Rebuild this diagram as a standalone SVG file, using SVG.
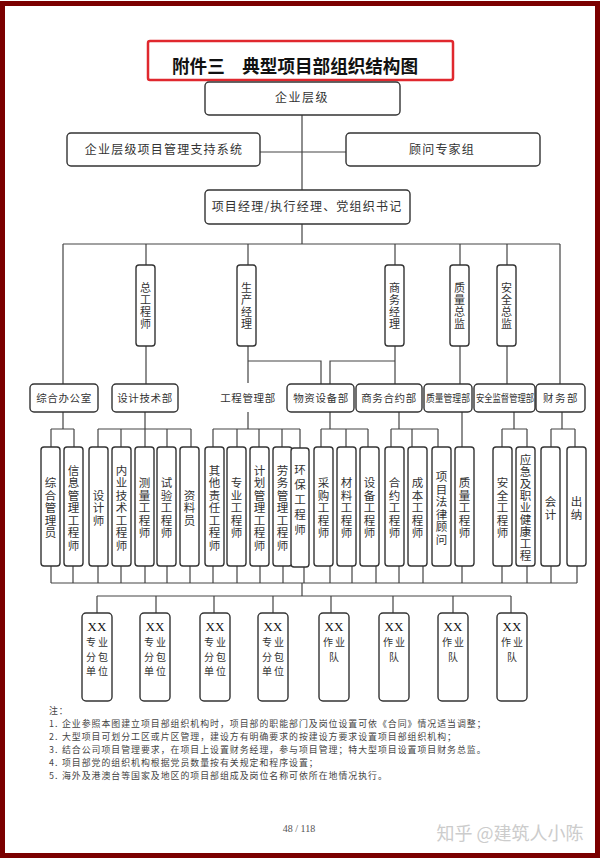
<svg xmlns="http://www.w3.org/2000/svg" width="600" height="860" viewBox="0 0 600 860">
<style>
.bx{fill:#fff;stroke:#333;stroke-width:1.4}
.ln{fill:none;stroke:#444;stroke-width:1.2}
.t{font-family:'Noto Sans CJK SC','Noto Sans CJK JP',sans-serif;fill:#333}
.h{font-size:12px;letter-spacing:1.2px;text-anchor:middle}
.d{font-size:10.5px;letter-spacing:0.6px;text-anchor:middle}
.v{font-size:11.5px;letter-spacing:1px;text-anchor:middle;writing-mode:vertical-rl}
.m{font-size:11px;letter-spacing:1px;text-anchor:middle;writing-mode:vertical-rl}
.xx{font-family:'Liberation Serif',serif;font-size:13px;fill:#111;text-anchor:middle}
.s{font-size:10px;letter-spacing:2px;text-anchor:middle}
.n{font-size:8.9px;letter-spacing:1px;fill:#444}
</style>
<rect x="0" y="0" width="600" height="860" fill="#fff"/>
<rect x="2.5" y="3.5" width="595" height="852" fill="none" stroke="#7b0000" stroke-width="5"/>

<g id="title">
<rect x="148" y="41" width="305" height="39" rx="2" fill="none" stroke="#e0282e" stroke-width="2.5"/>
<text x="295" y="73" class="t" style="font-size:18px;font-weight:bold;fill:#111" text-anchor="middle" textLength="246" lengthAdjust="spacingAndGlyphs">附件三　典型项目部组织结构图</text>
</g>

<g id="connectors">
<path class="ln" d="M302 115V190M260 152H346M302 224V244M63 244H560M63 244V384M146 244V265M146 346V384M248 244V265M248 346V383M248 361H321V384M395 244V265M395 346V384M395 361H330V384M460 244V265M460 346V384M507 244V265M507 346V384M560 244V384"/>
<path class="ln" d="M63 412V429M51 429H74M51 429V447M74 429V447M145 412V429M98 429H191M98 429V447M121 429V447M145 429V447M167 429V447M191 429V447M248 412V429M213 429H300M213 429V447M237 429V447M259 429V447M282 429V447M300 429V448M330 412V429M321 429H368M321 429V447M346 429V447M368 429V447M399 412V429M391 429H438M391 429V447M412 429V447M438 429V447M462 412V447M514 412V429M502 429H527M502 429V447M527 429V447M562 412V429M551 429H575M551 429V447M575 429V447"/>
<path class="ln" d="M51 566V583M73 566V583M98 566V583M121 566V583M145 566V583M167 566V583M190 566V583M213 566V583M237 566V583M260 566V583M283 566V583M304 567V583M330 566V583M352 566V583M376 566V583M399 566V583M423 566V583M462 566V583M502 566V583M527 566V583M551 566V583M577 566V583M51 583H577M302 583V596M97 596H511M97 596V613M156 596V613M214 596V613M273 596V613M331 596V613M393 596V613M453 596V613M511 596V613"/>
</g>

<g id="enterprise"><rect class="bx" x="205" y="82" width="195" height="33" rx="4"/><text class="t h" x="302" y="102" style="letter-spacing:1.5px">企业层级</text></g>
<g id="support"><rect class="bx" x="67" y="133" width="193" height="33" rx="4"/><text class="t h" x="164" y="154">企业层级项目管理支持系统</text></g>
<g id="experts"><rect class="bx" x="346" y="133" width="194" height="33" rx="4"/><text class="t h" x="442" y="154">顾问专家组</text></g>
<g id="pm"><rect class="bx" x="205" y="190" width="205" height="34" rx="4"/><text class="t h" x="307" y="211">项目经理/执行经理、党组织书记</text></g>

<g id="chief-engineer"><rect class="bx" x="136" y="265" width="19" height="81" rx="3"/><text class="t m" x="145.5" y="306">总工程师</text></g>
<g id="production-manager"><rect class="bx" x="237" y="265" width="19" height="81" rx="3"/><text class="t m" x="246.5" y="306">生产经理</text></g>
<g id="business-manager"><rect class="bx" x="385" y="265" width="19" height="81" rx="3"/><text class="t m" x="394.5" y="306">商务经理</text></g>
<g id="quality-director"><rect class="bx" x="450" y="265" width="19" height="81" rx="3"/><text class="t m" x="459.5" y="306">质量总监</text></g>
<g id="safety-director"><rect class="bx" x="497" y="265" width="19" height="81" rx="3"/><text class="t m" x="506.5" y="306">安全总监</text></g>

<g id="office"><rect class="bx" x="30" y="384" width="68" height="28" rx="4"/><text class="t d" x="64" y="402">综合办公室</text></g>
<g id="design"><rect class="bx" x="112" y="384" width="66" height="28" rx="4"/><text class="t d" x="145" y="402">设计技术部</text></g>
<g id="engineering"><text class="t d" x="248" y="402">工程管理部</text></g>
<g id="materials"><rect class="bx" x="287" y="384" width="67" height="28" rx="4"/><text class="t d" x="321" y="402">物资设备部</text></g>
<g id="contracts"><rect class="bx" x="356" y="384" width="66" height="28" rx="4"/><text class="t d" x="389" y="402">商务合约部</text></g>
<g id="quality"><rect class="bx" x="424" y="384" width="48" height="28" rx="4"/><text class="t" transform="translate(426 402) scale(0.838 1)" x="0" y="0" style="font-size:10.5px">质量管理部</text></g>
<g id="safety"><rect class="bx" x="474" y="384" width="61" height="28" rx="4"/><text class="t" transform="translate(476 402) scale(0.79 1)" x="0" y="0" style="font-size:10.5px">安全监督管理部</text></g>
<g id="finance"><rect class="bx" x="536" y="384" width="49" height="28" rx="4"/><text class="t d" x="561" y="402" style="letter-spacing:1.5px">财务部</text></g>

<g id="p1"><rect class="bx" x="41" y="447" width="19" height="119" rx="3"/><text class="t v" x="50.5" y="508.5">综合管理员</text></g>
<g id="p2"><rect class="bx" x="64" y="447" width="19" height="119" rx="3"/><text class="t v" x="73.5" y="508.5">信息管理工程师</text></g>
<g id="p3"><rect class="bx" x="89" y="447" width="19" height="119" rx="3"/><text class="t v" x="98.5" y="508.5">设计师</text></g>
<g id="p4"><rect class="bx" x="112" y="447" width="19" height="119" rx="3"/><text class="t v" x="121.5" y="508.5">内业技术工程师</text></g>
<g id="p5"><rect class="bx" x="135" y="447" width="19" height="119" rx="3"/><text class="t v" x="144.5" y="508.5">测量工程师</text></g>
<g id="p6"><rect class="bx" x="157" y="447" width="19" height="119" rx="3"/><text class="t v" x="166.5" y="508.5">试验工程师</text></g>
<g id="p7"><rect class="bx" x="180" y="447" width="19" height="119" rx="3"/><text class="t v" x="189.5" y="508.5">资料员</text></g>
<g id="p8"><rect class="bx" x="205" y="447" width="19" height="119" rx="3"/><text class="t v" x="214.5" y="508.5">其他责任工程师</text></g>
<g id="p9"><rect class="bx" x="227" y="447" width="19" height="119" rx="3"/><text class="t v" x="236.5" y="508.5">专业工程师</text></g>
<g id="p10"><rect class="bx" x="250" y="447" width="19" height="119" rx="3"/><text class="t v" x="259.5" y="508.5">计划管理工程师</text></g>
<g id="p11"><rect class="bx" x="273" y="447" width="19" height="119" rx="3"/><text class="t v" x="282.5" y="508.5">劳务管理工程师</text></g>
<g id="p12"><rect class="bx" x="291" y="448" width="18" height="119" rx="3"/><text class="t v" x="300" y="501.5" style="letter-spacing:3.5px">环保工程师</text></g>
<g id="p13"><rect class="bx" x="314" y="447" width="19" height="119" rx="3"/><text class="t v" x="323.5" y="508.5">采购工程师</text></g>
<g id="p14"><rect class="bx" x="337" y="447" width="19" height="119" rx="3"/><text class="t v" x="346.5" y="508.5">材料工程师</text></g>
<g id="p15"><rect class="bx" x="360" y="447" width="19" height="119" rx="3"/><text class="t v" x="369.5" y="508.5">设备工程师</text></g>
<g id="p16"><rect class="bx" x="385" y="447" width="19" height="119" rx="3"/><text class="t v" x="394.5" y="508.5">合约工程师</text></g>
<g id="p17"><rect class="bx" x="408" y="447" width="19" height="119" rx="3"/><text class="t v" x="417.5" y="508.5">成本工程师</text></g>
<g id="p18"><rect class="bx" x="432" y="447" width="19" height="119" rx="3"/><text class="t v" x="441.5" y="508.5">项目法律顾问</text></g>
<g id="p19"><rect class="bx" x="455" y="447" width="19" height="119" rx="3"/><text class="t v" x="464.5" y="508.5">质量工程师</text></g>
<g id="p20"><rect class="bx" x="493" y="447" width="19" height="119" rx="3"/><text class="t v" x="502.5" y="508.5">安全工程师</text></g>
<g id="p21"><rect class="bx" x="516" y="447" width="19" height="119" rx="3"/><text class="t v" x="525.5" y="508.3" style="letter-spacing:0.5px">应急及职业健康工程</text></g>
<g id="p22"><rect class="bx" x="541" y="447" width="19" height="119" rx="3"/><text class="t v" x="550.5" y="508.5">会计</text></g>
<g id="p23"><rect class="bx" x="567" y="447" width="19" height="119" rx="3"/><text class="t v" x="576.5" y="508.5">出纳</text></g>

<g id="sub1"><rect class="bx" x="82" y="613" width="30" height="88" rx="4"/><text class="xx" x="97" y="630.5">XX</text><text class="t s" x="98" y="646">专业</text><text class="t s" x="98" y="660.5">分包</text><text class="t s" x="98" y="675">单位</text></g>
<g id="sub2"><rect class="bx" x="140" y="613" width="30" height="88" rx="4"/><text class="xx" x="155" y="630.5">XX</text><text class="t s" x="156" y="646">专业</text><text class="t s" x="156" y="660.5">分包</text><text class="t s" x="156" y="675">单位</text></g>
<g id="sub3"><rect class="bx" x="200" y="613" width="30" height="88" rx="4"/><text class="xx" x="215" y="630.5">XX</text><text class="t s" x="216" y="646">专业</text><text class="t s" x="216" y="660.5">分包</text><text class="t s" x="216" y="675">单位</text></g>
<g id="sub4"><rect class="bx" x="258" y="613" width="30" height="88" rx="4"/><text class="xx" x="273" y="630.5">XX</text><text class="t s" x="274" y="646">专业</text><text class="t s" x="274" y="660.5">分包</text><text class="t s" x="274" y="675">单位</text></g>
<g id="team1"><rect class="bx" x="319" y="613" width="30" height="88" rx="4"/><text class="xx" x="334" y="630.5">XX</text><text class="t s" x="335" y="646">作业</text><text class="t s" x="335" y="660.5">队</text></g>
<g id="team2"><rect class="bx" x="379" y="613" width="30" height="88" rx="4"/><text class="xx" x="394" y="630.5">XX</text><text class="t s" x="395" y="646">作业</text><text class="t s" x="395" y="660.5">队</text></g>
<g id="team3"><rect class="bx" x="438" y="613" width="30" height="88" rx="4"/><text class="xx" x="453" y="630.5">XX</text><text class="t s" x="454" y="646">作业</text><text class="t s" x="454" y="660.5">队</text></g>
<g id="team4"><rect class="bx" x="497" y="613" width="30" height="88" rx="4"/><text class="xx" x="512" y="630.5">XX</text><text class="t s" x="513" y="646">作业</text><text class="t s" x="513" y="660.5">队</text></g>

<g id="notes" class="t n">
<text x="49" y="714">注：</text>
<text x="49" y="727">1.</text><text x="62" y="727">企业参照本图建立项目部组织机构时，项目部的职能部门及岗位设置可依《合同》情况适当调整；</text>
<text x="49" y="740">2.</text><text x="62" y="740">大型项目可划分工区或片区管理，建设方有明确要求的按建设方要求设置项目部组织机构；</text>
<text x="49" y="753">3.</text><text x="62" y="753">结合公司项目管理要求，在项目上设置财务经理，参与项目管理；特大型项目设置项目财务总监。</text>
<text x="49" y="766">4.</text><text x="62" y="766">项目部党的组织机构根据党员数量按有关规定和程序设置；</text>
<text x="49" y="779">5.</text><text x="62" y="779">海外及港澳台等国家及地区的项目部组成及岗位名称可依所在地情况执行。</text>
</g>
<text x="299" y="832" style="font-family:'Liberation Serif',serif;font-size:10px;fill:#555" text-anchor="middle">48 / 118</text>
<text x="510" y="840" class="t" style="font-size:18px;fill:#cccccc" text-anchor="middle">知乎 @建筑人小陈</text>
</svg>
